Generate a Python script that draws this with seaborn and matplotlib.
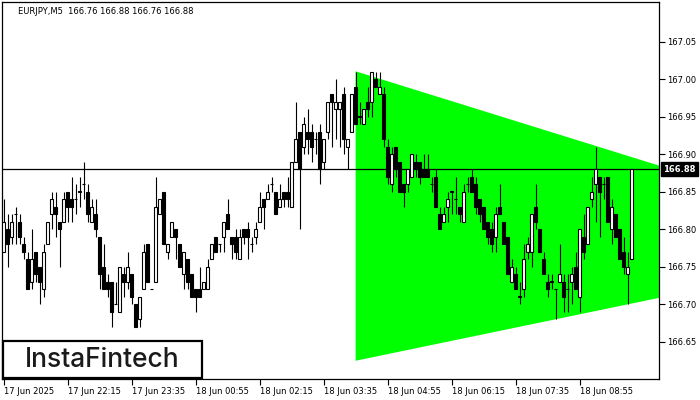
import matplotlib
matplotlib.use('Agg')
import matplotlib.pyplot as plt
import matplotlib.transforms as mtransforms
from matplotlib.patches import Rectangle
import seaborn as sns
import pandas as pd
import numpy as np

# EURJPY M5 candles (one row of 10 per line)
opens = [
    166.77, 166.80, 166.79, 166.82, 166.81, 166.78, 166.76, 166.73, 166.77, 166.75,
    166.72, 166.78, 166.82, 166.83, 166.81, 166.81, 166.85, 166.84, 166.84, 166.85,
    166.86, 166.85, 166.81, 166.82, 166.79, 166.75, 166.73, 166.73, 166.70, 166.69,
    166.74, 166.73, 166.74, 166.70, 166.68, 166.72, 166.78, 166.72, 166.73, 166.82,
    166.85, 166.77, 166.79, 166.80, 166.78, 166.74, 166.76, 166.74, 166.72, 166.72,
    166.72, 166.72, 166.76, 166.79, 166.78, 166.79, 166.82, 166.79, 166.79, 166.76,
    166.80, 166.80, 166.78, 166.79, 166.81, 166.84, 166.84, 166.86, 166.85, 166.83,
    166.85, 166.85, 166.83, 166.89, 166.93, 166.91, 166.93, 166.93, 166.92, 166.93,
    166.89, 166.93, 166.98, 166.96, 166.96, 166.98, 166.91, 166.93, 166.99, 166.95,
    166.94, 166.97, 166.97, 167.00, 166.98, 166.98, 166.91, 166.86, 166.91, 166.89,
    166.86, 166.86, 166.87, 166.89, 166.89, 166.88, 166.88, 166.86, 166.87, 166.82,
    166.81, 166.83, 166.85, 166.84, 166.83, 166.81, 166.86, 166.87, 166.86, 166.84,
    166.83, 166.81, 166.80, 166.79, 166.83, 166.81, 166.79, 166.73, 166.74, 166.71,
    166.72, 166.77, 166.77, 166.83, 166.80, 166.76, 166.73, 166.73, 166.72, 166.73,
    166.73, 166.72, 166.73, 166.75, 166.71, 166.79, 166.78, 166.84, 166.86, 166.87,
    166.86, 166.87, 166.80, 166.82, 166.80, 166.77, 166.74, 166.76,
]
highs = [
    166.84, 166.82, 166.82, 166.83, 166.82, 166.79, 166.77, 166.80, 166.77, 166.75,
    166.78, 166.81, 166.85, 166.85, 166.81, 166.85, 166.85, 166.87, 166.86, 166.87,
    166.89, 166.86, 166.84, 166.84, 166.79, 166.78, 166.74, 166.73, 166.73, 166.75,
    166.75, 166.77, 166.74, 166.70, 166.71, 166.78, 166.78, 166.72, 166.87, 166.84,
    166.85, 166.78, 166.81, 166.80, 166.78, 166.77, 166.76, 166.74, 166.72, 166.75,
    166.73, 166.76, 166.78, 166.79, 166.78, 166.81, 166.84, 166.79, 166.80, 166.80,
    166.80, 166.81, 166.79, 166.81, 166.85, 166.84, 166.86, 166.87, 166.85, 166.86,
    166.85, 166.87, 166.89, 166.97, 166.93, 166.95, 166.96, 166.94, 166.93, 166.94,
    166.92, 166.97, 166.98, 167.00, 166.97, 166.99, 166.92, 166.98, 167.01, 166.97,
    166.96, 166.99, 167.01, 167.01, 167.01, 166.99, 166.92, 166.91, 166.91, 166.89,
    166.86, 166.88, 166.90, 166.90, 166.89, 166.90, 166.90, 166.87, 166.88, 166.83,
    166.83, 166.85, 166.85, 166.87, 166.83, 166.86, 166.87, 166.88, 166.87, 166.84,
    166.83, 166.81, 166.81, 166.83, 166.86, 166.81, 166.79, 166.76, 166.75, 166.73,
    166.78, 166.79, 166.82, 166.86, 166.80, 166.77, 166.74, 166.74, 166.72, 166.78,
    166.74, 166.74, 166.75, 166.77, 166.80, 166.82, 166.83, 166.87, 166.91, 166.87,
    166.87, 166.87, 166.84, 166.82, 166.80, 166.79, 166.77, 166.88,
]
lows = [
    166.77, 166.75, 166.78, 166.78, 166.78, 166.76, 166.72, 166.72, 166.73, 166.70,
    166.71, 166.78, 166.80, 166.79, 166.75, 166.81, 166.81, 166.81, 166.82, 166.83,
    166.84, 166.81, 166.81, 166.79, 166.72, 166.72, 166.71, 166.67, 166.70, 166.69,
    166.71, 166.72, 166.70, 166.67, 166.67, 166.72, 166.73, 166.72, 166.73, 166.82,
    166.78, 166.76, 166.79, 166.76, 166.75, 166.72, 166.72, 166.71, 166.69, 166.71,
    166.72, 166.72, 166.76, 166.77, 166.77, 166.77, 166.80, 166.76, 166.76, 166.76,
    166.78, 166.76, 166.77, 166.78, 166.81, 166.80, 166.84, 166.85, 166.82, 166.83,
    166.83, 166.83, 166.83, 166.89, 166.80, 166.90, 166.90, 166.89, 166.90, 166.86,
    166.88, 166.92, 166.91, 166.92, 166.91, 166.90, 166.88, 166.93, 166.94, 166.94,
    166.94, 166.95, 166.95, 166.99, 166.98, 166.91, 166.86, 166.85, 166.87, 166.85,
    166.83, 166.85, 166.87, 166.87, 166.86, 166.87, 166.87, 166.85, 166.83, 166.80,
    166.81, 166.81, 166.82, 166.82, 166.81, 166.81, 166.85, 166.85, 166.82, 166.81,
    166.80, 166.78, 166.77, 166.77, 166.82, 166.78, 166.74, 166.73, 166.72, 166.70,
    166.71, 166.76, 166.75, 166.80, 166.77, 166.74, 166.71, 166.72, 166.68, 166.73,
    166.69, 166.69, 166.70, 166.72, 166.69, 166.76, 166.78, 166.83, 166.81, 166.79,
    166.84, 166.81, 166.78, 166.79, 166.76, 166.74, 166.70, 166.76,
]
closes = [
    166.81, 166.78, 166.81, 166.82, 166.79, 166.77, 166.72, 166.76, 166.74, 166.73,
    166.77, 166.81, 166.84, 166.82, 166.80, 166.84, 166.83, 166.83, 166.84, 166.85,
    166.86, 166.82, 166.83, 166.80, 166.74, 166.72, 166.72, 166.69, 166.70, 166.75,
    166.73, 166.75, 166.71, 166.67, 166.71, 166.77, 166.73, 166.72, 166.83, 166.84,
    166.78, 166.78, 166.81, 166.79, 166.75, 166.77, 166.73, 166.71, 166.71, 166.71,
    166.73, 166.75, 166.78, 166.77, 166.78, 166.81, 166.80, 166.78, 166.77, 166.79,
    166.79, 166.79, 166.78, 166.80, 166.83, 166.83, 166.85, 166.86, 166.82, 166.84,
    166.84, 166.84, 166.89, 166.92, 166.88, 166.94, 166.92, 166.91, 166.92, 166.88,
    166.92, 166.97, 166.97, 166.97, 166.97, 166.92, 166.92, 166.98, 166.94, 166.95,
    166.96, 166.96, 167.01, 166.99, 166.99, 166.92, 166.87, 166.90, 166.88, 166.85,
    166.85, 166.88, 166.90, 166.88, 166.87, 166.87, 166.87, 166.86, 166.83, 166.80,
    166.82, 166.84, 166.85, 166.84, 166.82, 166.85, 166.86, 166.85, 166.83, 166.82,
    166.80, 166.79, 166.78, 166.82, 166.82, 166.78, 166.74, 166.75, 166.72, 166.71,
    166.76, 166.78, 166.82, 166.81, 166.77, 166.74, 166.72, 166.73, 166.72, 166.74,
    166.71, 166.72, 166.74, 166.72, 166.80, 166.77, 166.83, 166.85, 166.88, 166.85,
    166.86, 166.81, 166.83, 166.79, 166.76, 166.75, 166.75, 166.88,
]

# time axis labels every 16 bars
tick_bars = [0, 16, 32, 48, 64, 80, 96, 112, 128, 144]
tick_labels = ['17 Jun 2025', '17 Jun 22:15', '17 Jun 23:35', '18 Jun 00:55', '18 Jun 02:15',
               '18 Jun 03:35', '18 Jun 04:55', '18 Jun 06:15', '18 Jun 07:35', '18 Jun 08:55']
price_ticks = [166.65, 166.70, 166.75, 166.80, 166.85, 166.90, 166.95, 167.00, 167.05]

# bullish symmetrical triangle pattern
tri_bars = [87.9, 163.9]
tri_upper = [167.011, 166.885]
tri_lower = [166.625, 166.709]

last_price = 166.88

df = pd.DataFrame({'open': opens, 'high': highs, 'low': lows, 'close': closes})
df['bar'] = np.arange(len(df))
df['bottom'] = df[['open', 'close']].min(axis=1)
df['height'] = (df['close'] - df['open']).abs().clip(lower=0.0003)
df['up'] = df['close'] >= df['open']

sns.set_theme(style='white')
plt.rcParams['font.family'] = ['DejaVu Sans']

fig = plt.figure(figsize=(7, 4), dpi=100)
ax = fig.add_axes([2 / 700, 21 / 400, 657 / 700, 377 / 400])

ax.fill_between(tri_bars, tri_lower, tri_upper, color='#00ff00', lw=0, zorder=1)
ax.axhline(last_price, color='black', lw=0.9, zorder=2)

ax.vlines(df['bar'], df['low'], df['high'], color='black', lw=0.8, zorder=3)
colors = np.where(df['up'], 'white', 'black')
ax.bar(df['bar'], df['height'], bottom=df['bottom'], width=0.6, color=colors,
       edgecolor='black', linewidth=0.8, zorder=4)

ax.set_xlim(-0.375, 163.875)
ax.set_ylim(166.600, 167.1027)

ax.yaxis.tick_right()
ax.set_yticks(price_ticks)
ax.set_yticklabels([f'{p:.2f}' for p in price_ticks])
ax.set_xticks(tick_bars)
ax.set_xticklabels(tick_labels)
for lbl in ax.get_xticklabels():
    lbl.set_horizontalalignment('left')
ax.tick_params(axis='both', direction='out', length=4, width=0.8, color='black',
               labelsize=6, labelcolor='black', pad=2)
ax.tick_params(axis='y', right=True, left=False)
ax.tick_params(axis='x', bottom=True)
for s in ax.spines.values():
    s.set_color('black')
    s.set_linewidth(0.9)
ax.grid(False)

# current price tag on the right axis
trans = mtransforms.blended_transform_factory(ax.transAxes, ax.transData)
ax.text(1.006, last_price, f'{last_price:.2f}', transform=trans, ha='left', va='center',
        color='white', fontsize=6, fontweight='bold',
        bbox=dict(facecolor='black', edgecolor='black', pad=1.6), zorder=6)

fig.text(18 / 700, 1 - 12 / 400, 'EURJPY,M5  166.76 166.88 166.76 166.88',
         fontsize=6, color='black', ha='left', va='center')

# logo box
fig.add_artist(Rectangle((3 / 700, 1 - 378 / 400), 199 / 700, 37 / 400,
                         transform=fig.transFigure, facecolor='white',
                         edgecolor='black', linewidth=1.6, zorder=10))
fig.text(102 / 700, 1 - 360 / 400, 'InstaFintech', fontsize=19, color='#1a1a1a',
         family=['Inter', 'DejaVu Sans'], fontweight='medium',
         ha='center', va='center', zorder=11)

plt.savefig('out.png', dpi=100)
